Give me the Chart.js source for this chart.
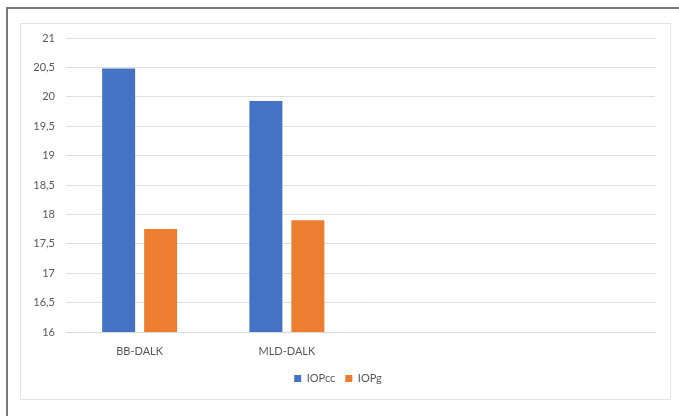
<!DOCTYPE html>
<html>
<head>
<meta charset="utf-8">
<script src="https://cdn.jsdelivr.net/npm/chart.js@4/dist/chart.umd.min.js"></script>
<style>
  html, body { margin: 0; padding: 0; background: #fff; width: 679px; height: 416px; overflow: hidden; }
  #outer { position: absolute; left: 6px; top: 7px; width: 679px; height: 420px; border-top: 2px solid #7a7a7a; border-left: 2px solid #7a7a7a; }
  #inner { position: absolute; left: 20px; top: 23px; width: 649px; height: 375px; border: 1px solid #e4e4e4; }
  canvas { display: block; }
</style>
</head>
<body>
<div id="outer"></div>
<div id="inner"><canvas id="c" width="649" height="375"></canvas></div>
<script>
const categories = ["BB-DALK", "MLD-DALK", "", ""];
const seriesNames = ["IOPcc", "IOPg"];
const iopcc = [20.48, 19.93, null, null];
const iopg = [17.75, 17.9, null, null];
const yMin = 16, yMax = 21, yStep = 0.5;
const colors = ["#4472C4", "#ED7D31"];

const font = { family: "Lato, 'Open Sans', sans-serif", size: 11 };
new Chart(document.getElementById('c'), {
  type: 'bar',
  data: {
    labels: categories,
    datasets: [
      { label: seriesNames[0], data: iopcc, backgroundColor: colors[0] },
      { label: seriesNames[1], data: iopg, backgroundColor: colors[1] }
    ]
  },
  options: {
    responsive: false,
    animation: false,
    layout: { padding: { left: 0, right: 15, top: 14, bottom: 5 } },
    datasets: { bar: { categoryPercentage: 0.57, barPercentage: 0.786 } },
    plugins: {
      legend: {
        position: 'bottom',
        labels: { boxWidth: 7, boxHeight: 7, padding: 10, color: '#595959', font: font }
      },
      tooltip: { enabled: false }
    },
    scales: {
      x: {
        grid: { display: false, drawTicks: false },
        border: { display: true, color: '#d9d9d9' },
        ticks: { color: '#595959', font: font, padding: 13 },
        afterFit: s => { s.height = 31; }
      },
      y: {
        min: yMin, max: yMax,
        grid: { color: '#e0e0e0', drawTicks: false },
        border: { display: false },
        ticks: { stepSize: yStep, color: '#595959', font: font, padding: 11,
          callback: v => String(v).replace('.', ',') },
        afterFit: s => { s.width = 45; s.paddingTop = 0; s.paddingBottom = 0; }
      }
    }
  }
});
</script>
</body>
</html>
